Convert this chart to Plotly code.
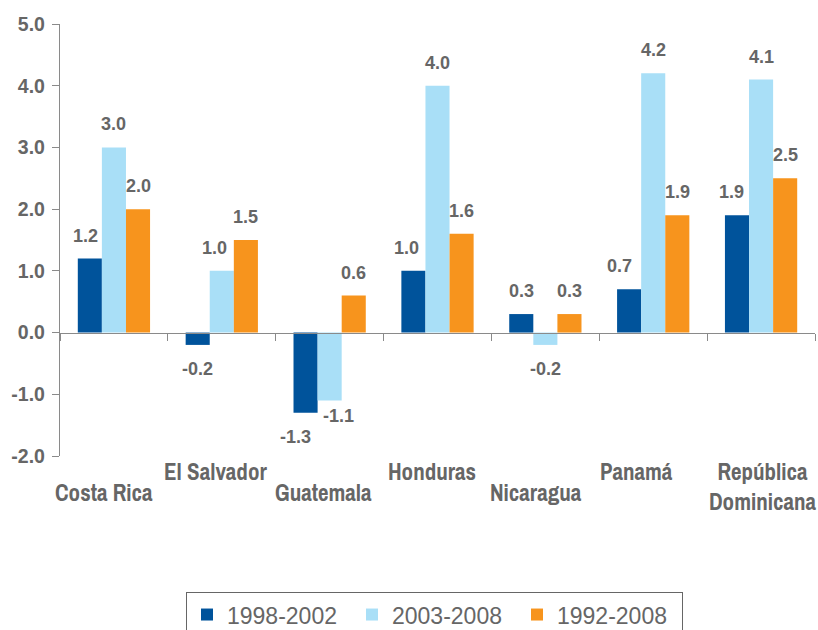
import plotly.graph_objects as go

categories = ["Costa Rica", "El Salvador", "Guatemala", "Honduras", "Nicaragua", "Panamá", "República<br>Dominicana"]
series_names = ["1998-2002", "2003-2008", "1992-2008"]
s1998_2002 = [1.2, -0.2, -1.3, 1.0, 0.3, 0.7, 1.9]
s2003_2008 = [3.0, 1.0, -1.1, 4.0, -0.2, 4.2, 4.1]
s1992_2008 = [2.0, 1.5, 0.6, 1.6, 0.3, 1.9, 2.5]
y_ticks = [-2, -1, 0, 1, 2, 3, 4, 5]

colors = ["#00539B", "#A9DFF7", "#F7941D"]
series = [s1998_2002, s2003_2008, s1992_2008]
GRAY = "#666666"
AXIS = "#8a8a8a"
SANS = "Liberation Sans, Arial, sans-serif"
NARROW = "Archivo Narrow, Barlow Semi Condensed, sans-serif"

W, H = 818, 630
ML, MR, MT, MB = 60, 3, 24, 174
BARGAP = 0.33
plot_w = W - ML - MR
cat_w = plot_w / len(categories)
bar_w = cat_w * (1 - BARGAP) / 3

fig = go.Figure()
for name, vals, col in zip(series_names, series, colors):
    fig.add_trace(go.Bar(x=categories, y=vals, name=name, marker_color=col,
                         marker_line_width=0))

# label nudges (style only): (series index, category index) -> (dx, dy)
nudges = {(0, 0): (-4, 0), (1, 1): (-7, 0), (0, 5): (-10, 0), (0, 3): (-7, 0),
          (0, 6): (-5, 0), (0, 2): (-10, 0), (1, 2): (9, 8)}

annotations = []
for si, vals in enumerate(series):
    for ci, v in enumerate(vals):
        dx, dy = nudges.get((si, ci), (0, 0))
        annotations.append(dict(
            x=categories[ci], y=v, xref="x", yref="y",
            text=f"<b>{v:.1f}</b>", showarrow=False,
            xshift=(si - 1) * bar_w + dx,
            yshift=(23 if v >= 0 else -24) + dy,
            font=dict(family=SANS, size=18, color=GRAY),
        ))

# staggered category labels (style nudges per label)
label_dx = [-10, -6, -6, -6, -9, -17, 1]
for ci, c in enumerate(categories):
    upper = ci % 2 == 1 or "<br>" in c
    annotations.append(dict(
        x=c, y=0, xref="x", yref="paper", yanchor="top",
        text=f"<b>{c}</b>", showarrow=False,
        xshift=label_dx[ci],
        yshift=2 if upper else -19,
        font=dict(family=NARROW, size=23, color=GRAY),
    ))

fig.update_layout(
    width=W, height=H,
    margin=dict(l=ML, r=MR, t=MT, b=MB, autoexpand=False),
    paper_bgcolor="white", plot_bgcolor="white",
    barmode="group", bargap=BARGAP, bargroupgap=0,
    font=dict(family=SANS, color=GRAY),
    annotations=annotations,
    showlegend=True,
    legend=dict(
        orientation="h", x=0.496, xanchor="center", y=-0.315, yanchor="top",
        bordercolor="#666666", borderwidth=1, bgcolor="white",
        font=dict(family=SANS, size=23, color=GRAY),
        traceorder="normal", entrywidth=120, entrywidthmode="pixels",
    ),
    xaxis=dict(
        type="category", range=[-0.5, len(categories) - 0.5], autorange=False,
        showticklabels=False, anchor="free", position=2 / 7,
        showline=True, linecolor=AXIS, linewidth=1.3,
        ticks="outside", tickson="boundaries", ticklen=7, tickcolor=AXIS, tickwidth=1.3,
        showgrid=False, zeroline=False,
    ),
    yaxis=dict(
        range=[-2, 5], autorange=False, tickvals=y_ticks,
        ticktext=[f"<b>{t:.1f}</b>" for t in y_ticks],
        showline=True, linecolor=AXIS, linewidth=1.3,
        ticks="outside", ticklen=7, tickcolor=AXIS, tickwidth=1.3,
        showgrid=False, zeroline=False, ticklabelstandoff=3,
        tickfont=dict(family=SANS, size=19.5, color=GRAY),
    ),
)

fig.write_html("out.html", config={"displayModeBar": False},
               post_script="document.body.style.margin='0';")
